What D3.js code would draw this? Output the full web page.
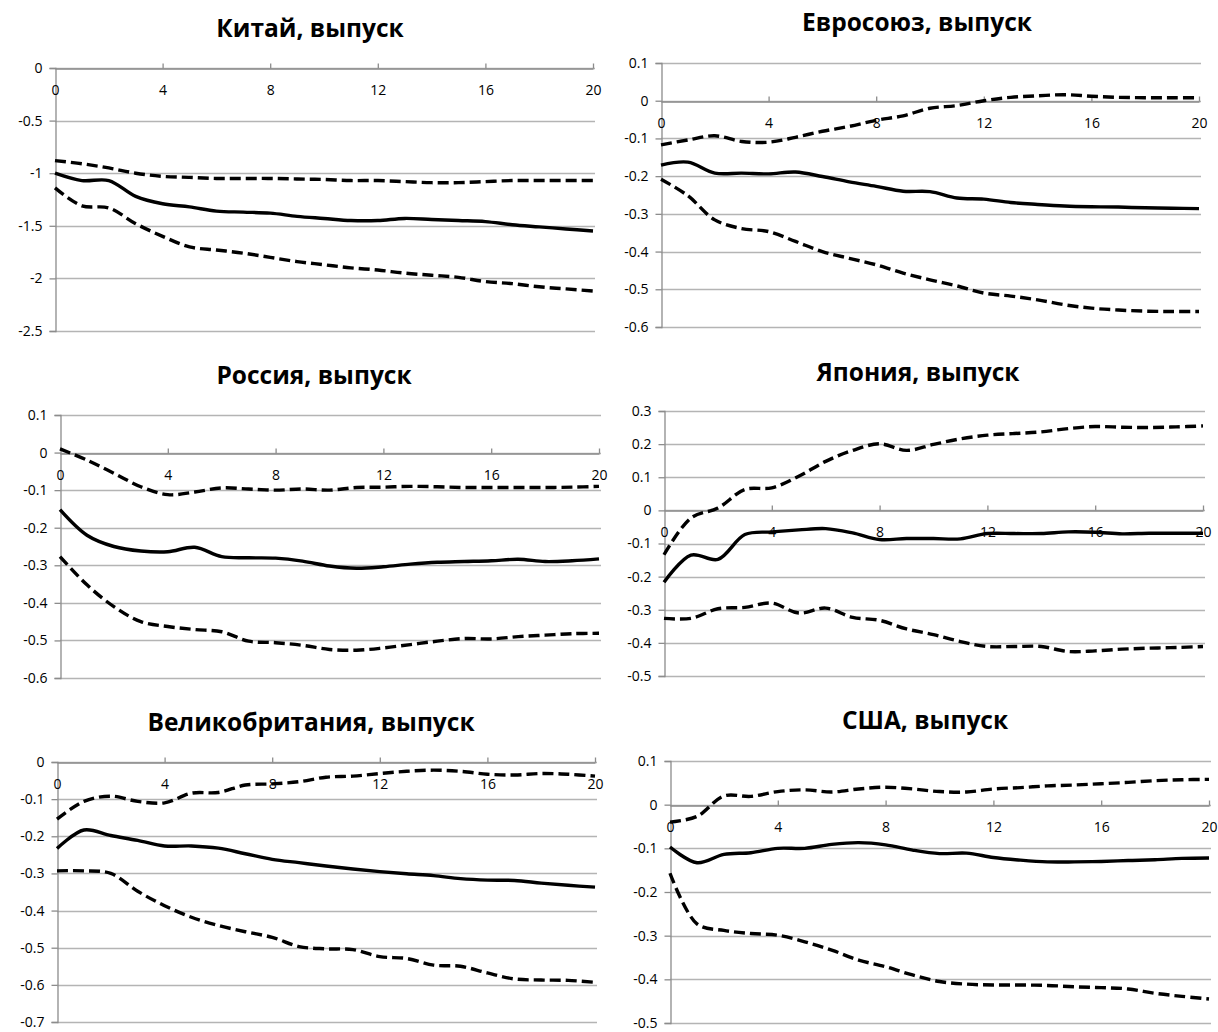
<!DOCTYPE html>
<html>
<head>
<meta charset="utf-8">
<script src="https://cdn.jsdelivr.net/npm/d3@7"></script>
<style>
  body { margin: 0; background: #fff; }
  svg { display: block; }
  .tick text { font-family: "Open Sans", "Noto Sans", sans-serif; font-size: 14px; fill: #000; }
  .title { font-family: "Open Sans", "Noto Sans", sans-serif; font-size: 24.5px; font-weight: bold; }
</style>
</head>
<body>
<script>
// periods 0..20
var periods = [0,1,2,3,4,5,6,7,8,9,10,11,12,13,14,15,16,17,18,19,20];
var xTicks = [0,4,8,12,16,20];

// Китай
var chinaHi  = [-0.88,-0.91,-0.95,-1.00,-1.03,-1.04,-1.05,-1.05,-1.05,-1.055,-1.06,-1.07,-1.07,-1.08,-1.09,-1.09,-1.08,-1.07,-1.07,-1.07,-1.07];
var chinaMid = [-1.00,-1.07,-1.07,-1.22,-1.29,-1.32,-1.36,-1.37,-1.38,-1.41,-1.43,-1.45,-1.45,-1.43,-1.44,-1.45,-1.46,-1.49,-1.51,-1.53,-1.55];
var chinaLo  = [-1.14,-1.31,-1.33,-1.48,-1.60,-1.70,-1.73,-1.76,-1.80,-1.84,-1.87,-1.90,-1.92,-1.95,-1.97,-1.99,-2.03,-2.05,-2.08,-2.10,-2.12];

// Евросоюз
var euHi  = [-0.117,-0.104,-0.093,-0.108,-0.110,-0.097,-0.081,-0.068,-0.052,-0.040,-0.020,-0.013,0.000,0.009,0.013,0.016,0.012,0.009,0.008,0.008,0.008];
var euMid = [-0.171,-0.163,-0.192,-0.192,-0.194,-0.189,-0.201,-0.215,-0.227,-0.240,-0.241,-0.258,-0.261,-0.270,-0.275,-0.279,-0.281,-0.282,-0.284,-0.285,-0.286];
var euLo  = [-0.208,-0.252,-0.316,-0.339,-0.347,-0.373,-0.400,-0.418,-0.435,-0.457,-0.475,-0.491,-0.510,-0.518,-0.528,-0.541,-0.550,-0.555,-0.558,-0.559,-0.559];

// Россия
var ruHi  = [0.010,-0.020,-0.055,-0.091,-0.112,-0.105,-0.094,-0.097,-0.100,-0.097,-0.100,-0.093,-0.092,-0.090,-0.091,-0.093,-0.093,-0.093,-0.093,-0.092,-0.090];
var ruMid = [-0.152,-0.220,-0.250,-0.262,-0.264,-0.252,-0.277,-0.280,-0.281,-0.289,-0.302,-0.308,-0.304,-0.297,-0.292,-0.290,-0.288,-0.284,-0.290,-0.288,-0.283];
var ruLo  = [-0.277,-0.352,-0.410,-0.450,-0.463,-0.471,-0.477,-0.502,-0.506,-0.513,-0.524,-0.526,-0.520,-0.511,-0.502,-0.495,-0.496,-0.490,-0.486,-0.482,-0.481];

// Япония
var jpHi  = [-0.134,-0.023,0.007,0.063,0.068,0.103,0.148,0.181,0.201,0.181,0.199,0.216,0.227,0.232,0.237,0.247,0.253,0.251,0.250,0.252,0.255];
var jpMid = [-0.217,-0.135,-0.148,-0.073,-0.065,-0.059,-0.055,-0.068,-0.088,-0.085,-0.085,-0.086,-0.070,-0.070,-0.070,-0.065,-0.066,-0.071,-0.069,-0.069,-0.069];
var jpLo  = [-0.326,-0.326,-0.297,-0.293,-0.280,-0.310,-0.295,-0.323,-0.332,-0.358,-0.375,-0.396,-0.411,-0.411,-0.411,-0.426,-0.424,-0.419,-0.416,-0.414,-0.411];

// Великобритания
var ukHi  = [-0.154,-0.106,-0.092,-0.106,-0.110,-0.084,-0.082,-0.062,-0.059,-0.053,-0.041,-0.038,-0.031,-0.025,-0.022,-0.025,-0.033,-0.035,-0.031,-0.033,-0.038];
var ukMid = [-0.233,-0.183,-0.198,-0.211,-0.226,-0.226,-0.232,-0.247,-0.262,-0.271,-0.280,-0.288,-0.295,-0.301,-0.306,-0.314,-0.318,-0.319,-0.326,-0.332,-0.337];
var ukLo  = [-0.293,-0.293,-0.300,-0.348,-0.387,-0.418,-0.440,-0.457,-0.472,-0.497,-0.503,-0.505,-0.524,-0.529,-0.547,-0.550,-0.568,-0.584,-0.587,-0.588,-0.593];

// США
var usHi  = [-0.040,-0.027,0.020,0.019,0.030,0.034,0.029,0.036,0.040,0.036,0.030,0.029,0.036,0.039,0.043,0.045,0.048,0.051,0.055,0.057,0.058];
var usMid = [-0.097,-0.133,-0.114,-0.110,-0.100,-0.100,-0.091,-0.087,-0.092,-0.104,-0.112,-0.111,-0.121,-0.127,-0.131,-0.131,-0.130,-0.128,-0.126,-0.123,-0.122];
var usLo  = [-0.157,-0.273,-0.288,-0.295,-0.299,-0.314,-0.333,-0.356,-0.371,-0.390,-0.405,-0.411,-0.413,-0.413,-0.414,-0.417,-0.419,-0.422,-0.432,-0.439,-0.445];

var titles = ["Китай, выпуск","Евросоюз, выпуск","Россия, выпуск","Япония, выпуск","Великобритания, выпуск","США, выпуск"];
var yDomains = [[-2.5,0],[-0.6,0.1],[-0.6,0.1],[-0.5,0.3],[-0.7,0],[-0.5,0.1]];
var yStep = [0.5,0.1,0.1,0.1,0.1,0.1];
var series = [
  [chinaHi, chinaMid, chinaLo],
  [euHi, euMid, euLo],
  [ruHi, ruMid, ruLo],
  [jpHi, jpMid, jpLo],
  [ukHi, ukMid, ukLo],
  [usHi, usMid, usLo]
];

// layout of each panel in page pixels
var boxes = [
  {x0:55,  x1:593,  y0:68,  y1:331,  tx:310, ty:28},
  {x0:661, x1:1199, y0:63,  y1:327,  tx:917, ty:22},
  {x0:60,  x1:599,  y0:415, y1:678,  tx:314, ty:375},
  {x0:664, x1:1203, y0:411, y1:676,  tx:918, ty:372},
  {x0:57,  x1:595,  y0:762, y1:1022, tx:311, ty:722},
  {x0:670, x1:1209, y0:761, y1:1023, tx:925, ty:720}
];

var svg = d3.select("body").append("svg").attr("width",1218).attr("height",1032);

for (var p = 0; p < 6; p++) {
  drawPanel(p);
}

function drawPanel(p){
  var b = boxes[p];
  var dom = yDomains[p];
  var x = d3.scaleLinear().domain([0,20]).range([b.x0,b.x1]);
  var y = d3.scaleLinear().domain(dom).range([b.y1,b.y0]);
  var g = svg.append("g");

  var n = Math.round((dom[1]-dom[0])/yStep[p]);
  var yTicks = d3.range(n+1).map(function(i){ return +(dom[0]+i*yStep[p]).toFixed(2); });

  // gridlines
  g.append("g").selectAll("line").data(yTicks).enter().append("line")
    .attr("x1",b.x0).attr("x2",b.x1+2)
    .attr("y1",function(d){ return Math.round(y(d))+0.5; })
    .attr("y2",function(d){ return Math.round(y(d))+0.5; })
    .attr("stroke","#b4b4b4").attr("stroke-width",1.3);

  // y axis
  var yAxis = d3.axisLeft(y).tickValues(yTicks).tickSize(6).tickPadding(7)
    .tickFormat(function(d){ return String(d); });
  var ya = g.append("g").attr("transform","translate("+(Math.round(b.x0)+0.5)+",0)").call(yAxis);
  ya.select(".domain").attr("stroke","#8c8c8c").attr("stroke-width",1.3);
  ya.selectAll(".tick line").attr("stroke","#8c8c8c").attr("stroke-width",1.3);

  // x axis at zero
  var xAxis = d3.axisTop(x).tickValues(xTicks).tickSize(5).tickSizeOuter(0);
  var xa = g.append("g").attr("transform","translate(0,"+(Math.round(y(0))+0.5)+")").call(xAxis);
  xa.select(".domain").attr("stroke","#8c8c8c").attr("stroke-width",1.3);
  xa.selectAll(".tick line").attr("stroke","#8c8c8c").attr("stroke-width",1.3)
    .attr("opacity",function(d){ return d === 0 ? 0 : 1; });
  xa.selectAll(".tick text").attr("y",22).attr("dy","0.32em");

  // lines
  var line = d3.line()
    .curve(d3.curveCatmullRom.alpha(0.5))
    .x(function(d,i){ return x(periods[i]); })
    .y(function(d){ return y(d); });

  var s = series[p];
  [s[0], s[2]].forEach(function(arr){
    g.append("path").datum(arr).attr("d",line)
      .attr("fill","none").attr("stroke","#000").attr("stroke-width",3.4)
      .attr("stroke-dasharray","11,5");
  });
  g.append("path").datum(s[1]).attr("d",line)
    .attr("fill","none").attr("stroke","#000").attr("stroke-width",3.4);

  // title
  svg.append("text").attr("class","title")
    .attr("x",b.tx).attr("y",b.ty).attr("dy","0.35em")
    .attr("text-anchor","middle").text(titles[p]);
}
</script>
</body>
</html>
